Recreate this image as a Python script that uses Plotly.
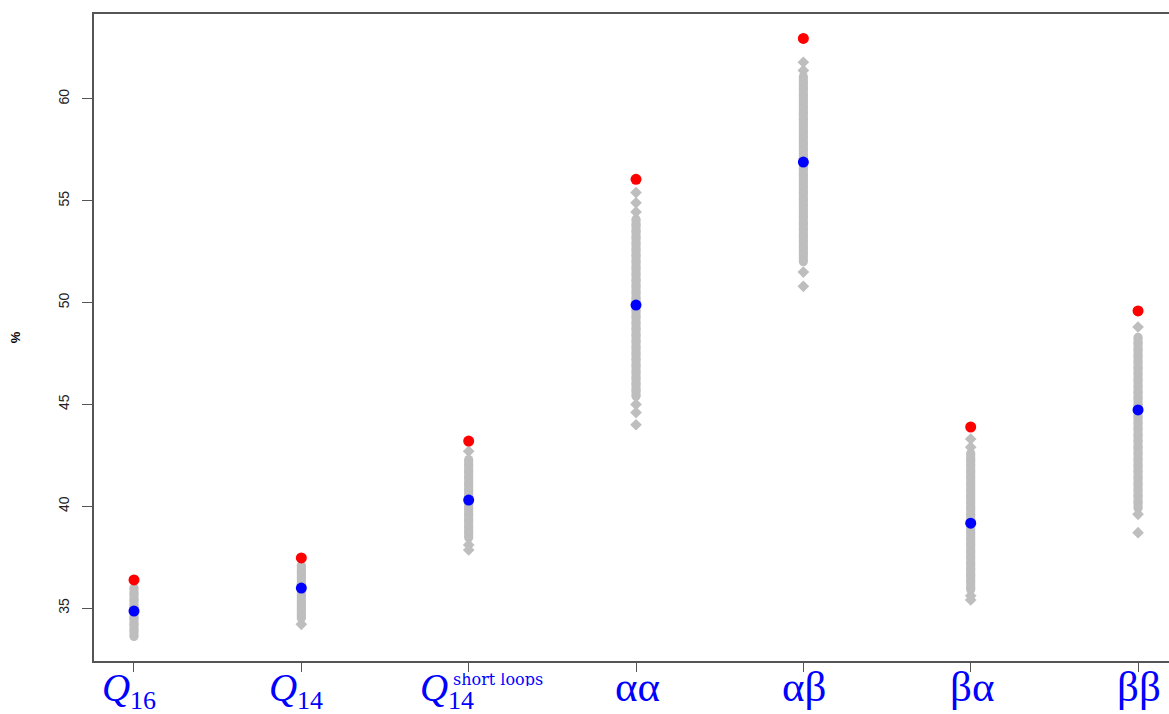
import plotly.graph_objects as go

# Categories (x positions 1..7)
categories = ["Q16", "Q14", "Q14 short loops", "αα", "αβ", "βα", "ββ"]
label_main = ["Q", "Q", "Q", "αα", "αβ", "βα", "ββ"]
label_sub = ["16", "14", "14", "", "", "", ""]
label_sup = ["", "", "short loops", "", "", "", ""]

# Observed values (red) and mean of randomised values (blue)
observed = [36.38, 37.46, 43.20, 56.05, 62.97, 43.89, 49.59]
mean_random = [34.85, 35.98, 40.30, 49.88, 56.90, 39.17, 44.73]

# Randomised values (gray): dense runs and isolated points
dense_q16 = [36.0, 35.7, 35.4, 35.1, 34.8, 34.5, 34.2, 33.9, 33.6]
sparse_q16 = []
dense_q14 = [37.1, 36.8, 36.5, 36.2, 35.9, 35.6, 35.3, 35.0, 34.7, 34.5]
sparse_q14 = [34.2]
dense_q14s = [42.3, 42.0, 41.7, 41.4, 41.1, 40.8, 40.5, 40.2, 39.9, 39.6, 39.3,
              39.0, 38.7, 38.45]
sparse_q14s = [42.7, 38.1, 37.85]
dense_aa = [54.1, 53.8, 53.5, 53.2, 52.9, 52.6, 52.3, 52.0, 51.7, 51.4, 51.1, 50.8,
            50.5, 50.2, 49.9, 49.6, 49.3, 49.0, 48.7, 48.4, 48.1, 47.8, 47.5, 47.2,
            46.9, 46.6, 46.3, 46.0, 45.7, 45.4]
sparse_aa = [55.4, 54.9, 54.45, 45.0, 44.6, 44.0]
dense_ab = [61.1, 60.8, 60.5, 60.2, 59.9, 59.6, 59.3, 59.0, 58.7, 58.4, 58.1, 57.8,
            57.5, 57.2, 56.9, 56.6, 56.3, 56.0, 55.7, 55.4, 55.1, 54.8, 54.5, 54.2,
            53.9, 53.6, 53.3, 53.0, 52.7, 52.4, 52.0]
sparse_ab = [61.8, 61.4, 51.5, 50.8]
dense_ba = [42.6, 42.3, 42.0, 41.7, 41.4, 41.1, 40.8, 40.5, 40.2, 39.9, 39.6, 39.3,
            39.0, 38.7, 38.4, 38.1, 37.8, 37.5, 37.2, 36.9, 36.6, 36.3, 36.0, 35.9]
sparse_ba = [43.3, 42.9, 35.6, 35.4]
dense_bb = [48.3, 48.0, 47.7, 47.4, 47.1, 46.8, 46.5, 46.2, 45.9, 45.6, 45.3, 45.0,
            44.7, 44.4, 44.1, 43.8, 43.5, 43.2, 42.9, 42.6, 42.3, 42.0, 41.7, 41.4,
            41.1, 40.8, 40.5, 40.2, 39.9]
sparse_bb = [48.8, 39.6, 38.7]
dense_all = [dense_q16, dense_q14, dense_q14s, dense_aa, dense_ab, dense_ba, dense_bb]
sparse_all = [sparse_q16, sparse_q14, sparse_q14s, sparse_aa, sparse_ab, sparse_ba, sparse_bb]

y_ticks = [35, 40, 45, 50, 55, 60]

xs_pos = list(range(1, len(categories) + 1))
GRAY = "#BEBEBE"

fig = go.Figure()

for i in range(len(categories)):
    d = dense_all[i]
    fig.add_trace(go.Scatter(x=[xs_pos[i]] * len(d), y=d, mode="lines+markers",
                             line=dict(color=GRAY, width=9),
                             marker=dict(symbol="circle", size=9, color=GRAY),
                             showlegend=False, hoverinfo="y"))
    s = sparse_all[i]
    if s:
        fig.add_trace(go.Scatter(x=[xs_pos[i]] * len(s), y=s, mode="markers",
                                 marker=dict(symbol="diamond", size=9, color=GRAY),
                                 showlegend=False, hoverinfo="y"))

fig.add_trace(go.Scatter(x=xs_pos, y=mean_random, mode="markers",
                         marker=dict(symbol="circle", size=11, color="#0000FF"),
                         showlegend=False))
fig.add_trace(go.Scatter(x=xs_pos, y=observed, mode="markers",
                         marker=dict(symbol="circle", size=11, color="#FF0000"),
                         showlegend=False))

BLUE = "#0000FF"
for i in range(len(categories)):
    m, sb, sp = label_main[i], label_sub[i], label_sup[i]
    if sb:
        qshift = -35 if sp else -18
        fig.add_annotation(x=xs_pos[i], y=0, xref="x", yref="paper",
                           text="<i>" + m + "</i>", showarrow=False,
                           yanchor="top", xanchor="center", yshift=-3, xshift=qshift,
                           font=dict(family="Liberation Serif", size=39, color=BLUE))
        fig.add_annotation(x=xs_pos[i], y=0, xref="x", yref="paper", text=sb,
                           showarrow=False, yanchor="top", xanchor="center",
                           yshift=-26, xshift=qshift + 27, height=22, valign="middle",
                           font=dict(family="Liberation Serif", size=26, color=BLUE))
        if sp:
            fig.add_annotation(x=xs_pos[i], y=0, xref="x", yref="paper", text=sp,
                               showarrow=False, yanchor="top", xanchor="center",
                               yshift=-10, xshift=29, height=13, valign="middle",
                               font=dict(family="DejaVu Serif", size=16, color=BLUE))
    else:
        fig.add_annotation(x=xs_pos[i], y=0, xref="x", yref="paper", text=m,
                           showarrow=False, yanchor="top", xanchor="center",
                           yshift=0, xshift=1,
                           font=dict(family="Liberation Serif", size=43, color=BLUE))

fig.update_layout(
    width=1169, height=714,
    margin=dict(l=94, r=0, t=14, b=53),
    plot_bgcolor="white", paper_bgcolor="white",
    font=dict(family="Liberation Sans", size=14, color="#222"),
    xaxis=dict(range=[0.761, 7.185], tickvals=xs_pos, ticktext=[""] * len(xs_pos),
               showgrid=False, zeroline=False, showline=True, linecolor="#555",
               linewidth=1.5, mirror=True, ticks="outside", ticklen=9,
               tickcolor="#555", tickwidth=1.2),
    yaxis=dict(range=[32.40, 64.17], tickvals=y_ticks, ticktext=[str(t) for t in y_ticks],
               tickangle=-90, showgrid=False, zeroline=False, showline=True,
               linecolor="#555", linewidth=1.5, ticks="outside", ticklen=10,
               tickcolor="#555", tickwidth=1.2, ticklabelstandoff=8,
               title=dict(text="<b>%</b>", standoff=32,
                          font=dict(family="Liberation Sans", size=13, color="#000"))),
)

fig.write_html("out.html", config={"displayModeBar": False},
               post_script="document.body.style.margin='0px';")
